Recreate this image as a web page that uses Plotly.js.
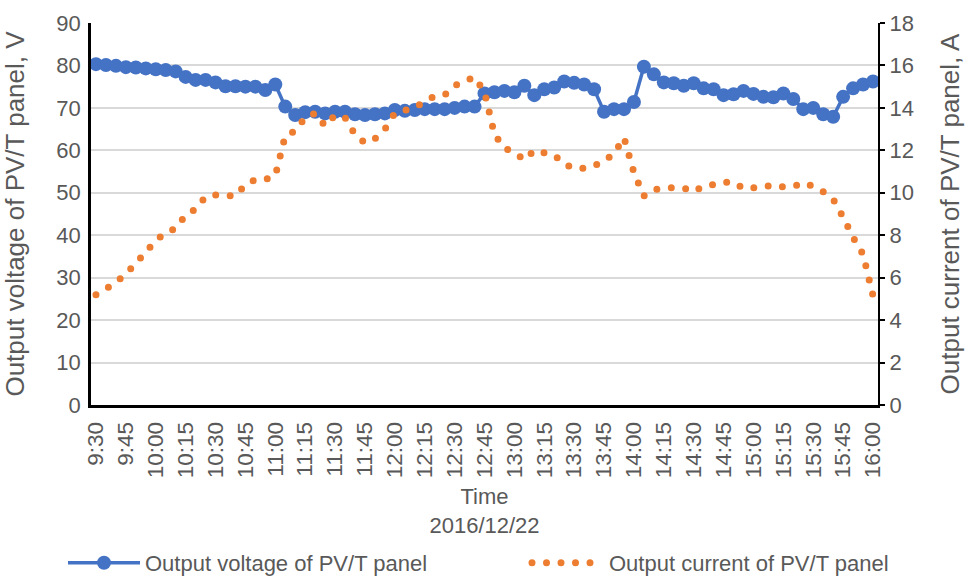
<!DOCTYPE html>
<html><head><meta charset="utf-8">
<script src="https://cdn.plot.ly/plotly-3.0.1.min.js"></script>
<style>html,body{margin:0;padding:0;background:#fff;} #chart{width:966px;height:579px;}</style>
</head><body><div id="chart"></div>
<script>
const times = ["9:30","9:35","9:40","9:45","9:50","9:55",
"10:00","10:05","10:10","10:15","10:20","10:25","10:30","10:35","10:40","10:45","10:50","10:55",
"11:00","11:05","11:10","11:15","11:20","11:25","11:30","11:35","11:40","11:45","11:50","11:55",
"12:00","12:05","12:10","12:15","12:20","12:25","12:30","12:35","12:40","12:45","12:50","12:55",
"13:00","13:05","13:10","13:15","13:20","13:25","13:30","13:35","13:40","13:45","13:50","13:55",
"14:00","14:05","14:10","14:15","14:20","14:25","14:30","14:35","14:40","14:45","14:50","14:55",
"15:00","15:05","15:10","15:15","15:20","15:25","15:30","15:35","15:40","15:45","15:50","15:55",
"16:00"];
const tickTimes = ["9:30","9:45","10:00","10:15","10:30","10:45","11:00","11:15","11:30","11:45",
"12:00","12:15","12:30","12:45","13:00","13:15","13:30","13:45","14:00","14:15","14:30","14:45",
"15:00","15:15","15:30","15:45","16:00"];
const voltage = [80.3,80.1,79.9,79.6,79.5,79.3,79.1,78.9,78.6,77.3,
76.6,76.6,76.0,75.1,75.1,75.0,75.0,74.2,75.5,70.3,
68.3,69.0,69.1,68.7,69.1,69.1,68.5,68.3,68.5,68.7,
69.5,69.3,69.5,69.7,69.7,69.7,70.0,70.3,70.3,73.4,
73.7,74.0,73.7,75.2,73.0,74.4,74.8,76.2,75.9,75.5,
74.4,69.1,69.7,69.7,71.4,79.7,77.9,76.0,75.8,75.2,
75.8,74.6,74.4,73.0,73.2,74.0,73.3,72.6,72.5,73.4,
72.1,69.7,70.0,68.5,67.9,72.6,74.6,75.5,76.2];
const current = [5.2,5.48,5.78,6.18,6.67,7.21,7.75,8.13,8.31,8.95,
9.23,9.82,9.9,9.86,9.85,10.38,10.62,10.63,10.8,12.7,
12.9,13.55,13.75,13.15,13.65,13.55,12.75,12.35,12.55,13.0,
13.75,13.88,14.02,14.3,14.55,14.6,15.05,15.25,15.45,14.75,
12.75,12.1,11.9,11.55,12.0,11.88,11.78,11.35,11.15,11.15,
11.27,11.5,11.85,12.6,10.95,9.85,10.15,10.2,10.25,10.22,
10.05,10.32,10.38,10.5,10.5,10.2,10.23,10.28,10.37,10.27,
10.3,10.47,10.3,10.05,9.7,8.85,7.9,7.1,5.15];
const voltageName = "Output voltage of PV/T panel";
const currentName = "Output current of PV/T panel";

const BLUE = "#4472C4", ORANGE = "#ED7D31", TXT = "#595959";

const data = [
  {x: times, y: voltage, name: voltageName, type: "scatter", mode: "lines+markers",
   line: {color: BLUE, width: 3.5, simplify: false}, marker: {color: BLUE, size: 14, line: {width: 0}},
   yaxis: "y", legend: "legend"},
  {x: times, y: current, name: currentName, type: "scatter", mode: "lines",
   line: {color: ORANGE, width: 7, dash: "0px,14.5px", simplify: false},
   yaxis: "y2", legend: "legend2"}
];

const layout = {
  width: 966, height: 579,
  margin: {l: 91, r: 88, t: 23, b: 174},
  paper_bgcolor: "#fff", plot_bgcolor: "#fff",
  font: {family: "Liberation Sans, Arial, sans-serif", color: TXT, size: 22},
  showlegend: true,
  xaxis: {type: "category", range: [-0.5, 78.5], tickmode: "array", tickvals: tickTimes, ticktext: tickTimes,
    tickangle: -90, tickfont: {size: 22.5, color: TXT}, showgrid: false, zeroline: false,
    showline: true, linecolor: "#000", linewidth: 3, ticks: "", ticklabelstandoff: 5,
    title: {text: "Time<br>2016/12/22", font: {size: 22, color: TXT}, standoff: 12}, automargin: false},
  yaxis: {range: [0, 90], dtick: 10, tick0: 0, showgrid: true, gridcolor: "#D9D9D9", gridwidth: 1.5,
    zeroline: false, showline: true, linecolor: "#000", linewidth: 2.5, ticks: "", ticklabelstandoff: 3,
    tickfont: {size: 22, color: TXT},
    title: {text: "Output voltage of PV/T panel, V", font: {size: 26, color: TXT}, standoff: 27}, automargin: false},
  yaxis2: {overlaying: "y", side: "right", range: [0, 18], dtick: 2, tick0: 0, showgrid: false, zeroline: false,
    showline: true, linecolor: "#000", linewidth: 2, ticks: "outside", ticklen: 5, tickwidth: 1.5, tickcolor: "#000",
    tickfont: {size: 22, color: TXT},
    title: {text: "Output current of PV/T panel, A", font: {size: 26, color: TXT}, standoff: 28}, automargin: false},
  legend: {orientation: "h", xref: "container", yref: "container", x: 63 / 966, xanchor: "left",
    y: (579 - 563) / 579, yanchor: "middle", itemwidth: 72,
    font: {size: 22, color: TXT}, bgcolor: "rgba(0,0,0,0)"},
  legend2: {orientation: "h", xref: "container", yref: "container", x: 527 / 966, xanchor: "left",
    y: (579 - 563) / 579, yanchor: "middle", itemwidth: 72,
    font: {size: 22, color: TXT}, bgcolor: "rgba(0,0,0,0)"}
};

const gd = document.getElementById("chart");
Plotly.newPlot(gd, data, layout, {displayModeBar: false}).then(function () {
  gd.querySelectorAll("path").forEach(function (p) {
    const s = (p.style.stroke || "").replace(/\s/g, "");
    if (s === "rgb(237,125,49)") p.style.strokeLinecap = "round";
  });
});
</script>
</body></html>
